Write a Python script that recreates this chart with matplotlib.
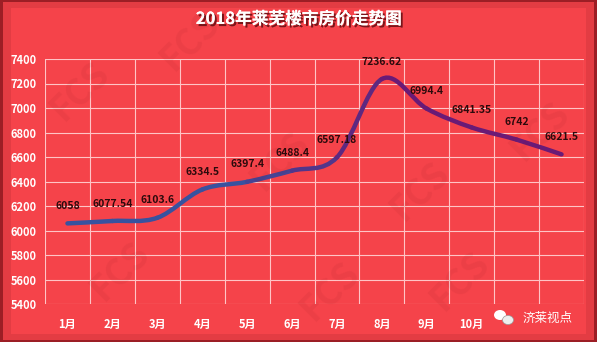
import matplotlib.pyplot as plt
import numpy as np
from matplotlib.path import Path
from matplotlib.patches import PathPatch, Rectangle, Ellipse
import matplotlib.patheffects as pe
from matplotlib.colors import to_rgb

plt.rcParams['font.family'] = ['Noto Sans CJK SC', 'DejaVu Sans']

title = '2018年莱芜楼市房价走势图'
months = ['1月', '2月', '3月', '4月', '5月', '6月', '7月', '8月', '9月', '10月', '11月', '12月']
prices = [6058, 6077.54, 6103.6, 6334.5, 6397.4, 6488.4, 6597.18, 7236.62, 6994.4, 6841.35, 6742, 6621.5]
yticks = [5400, 5600, 5800, 6000, 6200, 6400, 6600, 6800, 7000, 7200, 7400]

bg = '#F5434A'
edge = '#9C1E25'
W, H = 597, 342

fig = plt.figure(figsize=(W / 100, H / 100), dpi=100)
fig.patch.set_facecolor(edge)

# soft dark frame around the panel
for k, w in enumerate([9, 7, 5, 3]):
    c = np.array(to_rgb(edge)) + (np.array(to_rgb(bg)) - np.array(to_rgb(edge))) * (k + 1) / 5
    fig.patches.append(Rectangle((w / W, w * 0.7 / H), 1 - 2 * w / W, 1 - 1.4 * w / H,
                                 transform=fig.transFigure, facecolor=c, edgecolor='none', zorder=-3 + k * 0.1))
fig.patches.append(Rectangle((11 / W, 8 / H), 1 - 22 / W, 1 - 16 / H,
                             transform=fig.transFigure, facecolor=bg, edgecolor='none', zorder=-2))

ax = fig.add_axes([45 / W, 1 - 304 / H, (584 - 45) / W, (304 - 59) / H])
ax.set_facecolor('none')
ax.set_xlim(-0.5, len(months) - 0.5)
ax.set_ylim(5400, 7400)
for s in ax.spines.values():
    s.set_visible(False)

ax.set_yticks(yticks)
ax.set_yticklabels([str(v) for v in yticks])
ax.set_xticks(range(len(months)))
ax.set_xticklabels(months)
ax.set_xticks(np.arange(-0.5, len(months)), minor=True)
ax.tick_params(axis='both', which='both', length=0)
ax.tick_params(axis='y', pad=6, labelsize=8, labelcolor='white')
ax.tick_params(axis='x', pad=10, labelsize=8, labelcolor='white')
for t in ax.get_xticklabels() + ax.get_yticklabels():
    t.set_fontweight('bold')
# last two month labels sit under the account logo in the original
for t in ax.get_xticklabels()[-2:]:
    t.set_visible(False)
ax.grid(True, axis='y', color='#FFC4C6', linewidth=0.8)
ax.grid(True, axis='x', which='minor', color='#FFC4C6', linewidth=0.8)
ax.set_axisbelow(True)

# smoothed line (Catmull-Rom style bezier), colour shifting from blue to purple
x = np.arange(len(prices), dtype=float)
y = np.array(prices, dtype=float)
c0 = np.array(to_rgb('#38529F'))
c1 = np.array(to_rgb('#6A1A76'))
n = len(x)
for i in range(n - 1):
    p0 = np.array([x[max(i - 1, 0)], y[max(i - 1, 0)]])
    p1 = np.array([x[i], y[i]])
    p2 = np.array([x[i + 1], y[i + 1]])
    p3 = np.array([x[min(i + 2, n - 1)], y[min(i + 2, n - 1)]])
    b1 = p1 + (p2 - p0) / 6
    b2 = p2 - (p3 - p1) / 6
    path = Path([p1, b1, b2, p2], [Path.MOVETO, Path.CURVE4, Path.CURVE4, Path.CURVE4])
    f = min(1.0, max(0.0, (i - 3) / 4))
    col = c0 + (c1 - c0) * f
    ax.add_patch(PathPatch(path, facecolor='none', edgecolor=col, linewidth=3.2,
                           capstyle='round', zorder=3))

for xi, v in zip(x, prices):
    ax.annotate(f'{v:g}', (xi, v), xytext=(0, 9), textcoords='offset points',
                ha='center', va='bottom', fontsize=7.5, fontweight='bold', color='#2B0A0C', zorder=4)

# title with shadow
fig.text(0.5, 1 - 19 / H, title, ha='center', va='center', fontsize=12, fontweight='bold',
         color='white',
         path_effects=[pe.withSimplePatchShadow(offset=(1.5, -1.5), shadow_rgbFace='#5A0A0E', alpha=0.8),
                       pe.Normal()])

# faint watermarks
for (wx, wy) in [(190, 40), (280, 160), (540, 130), (120, 270), (330, 290), (80, 90), (420, 190), (460, 280)]:
    fig.text(wx / W, 1 - wy / H, 'FCS', rotation=45, fontsize=26, fontweight='bold',
             color='#7A1015', alpha=0.07, ha='center', va='center')

# account logo in the corner
fig.text(548 / W, 1 - 318 / H, '济莱视点', ha='center', va='center', fontsize=9,
         color='white', zorder=5)
fig.patches.append(Ellipse((500 / W, 1 - 315 / H), 12 / W, 10 / H, transform=fig.transFigure,
                           facecolor='white', edgecolor='none', zorder=6))
fig.patches.append(Ellipse((508 / W, 1 - 320 / H), 11 / W, 9 / H, transform=fig.transFigure,
                           facecolor='#EEEEEE', edgecolor='#999999', linewidth=0.5, zorder=6))

fig.savefig('out.png', dpi=100, facecolor=fig.get_facecolor())
